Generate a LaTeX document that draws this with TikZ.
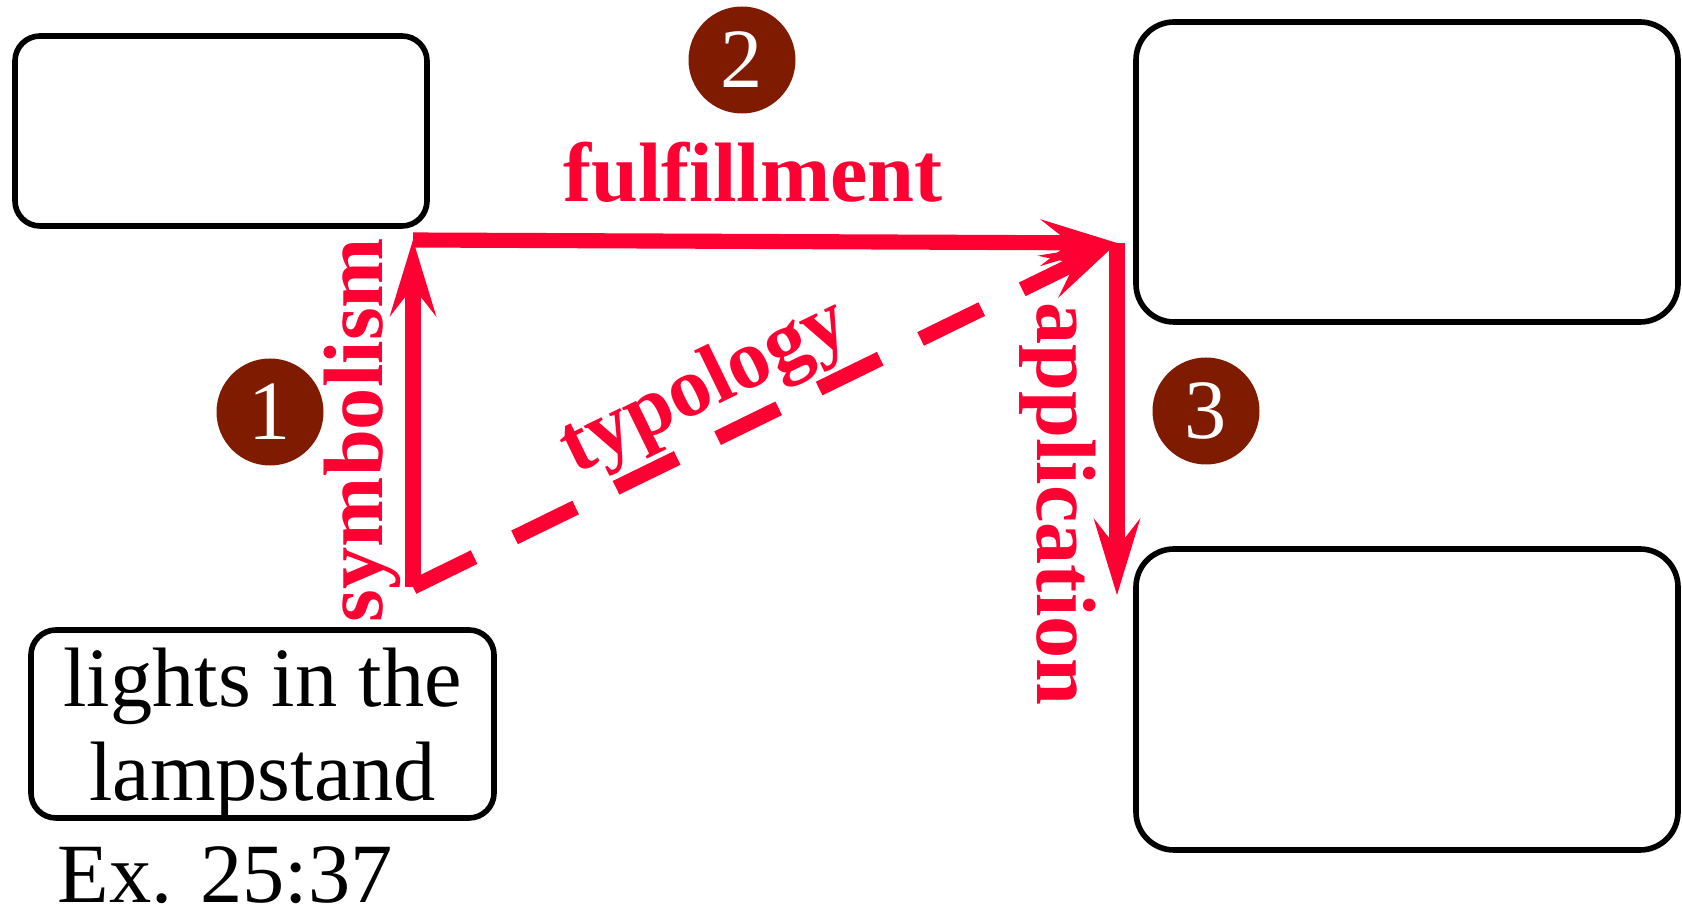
\documentclass[tikz,border=0pt]{standalone}
\usepackage{fontspec}
\setmainfont{Liberation Serif}
\usetikzlibrary{arrows.meta}
\definecolor{linkred}{RGB}{255,0,51}
\definecolor{ballbrown}{RGB}{127,27,0}
\begin{document}
\begin{tikzpicture}[%
% common options for the boxes:
box/.style = {draw, line width=1.6pt, rounded corners=0.25cm, align=center, inner sep=0},
% common options for the numbered circles:
ball/.style = {circle, fill=ballbrown, text=white, minimum size=1.07cm, inner sep=0,
            font=\fontsize{24}{28}\selectfont},
% common options for the red labels:
lbl/.style = {text=linkred, font=\fontsize{24}{28}\selectfont\bfseries, inner sep=0, anchor=base},
% common options for the red connectors:
link/.style = {draw=linkred, line width=4.3pt,
            -{Stealth[length=0.77cm, width=0.47cm, inset=0.3cm, line width=0pt, fill=linkred]}}]
\useasboundingbox (0,0) rectangle (16.82,-9.10);
\node[box, minimum width=4.12cm, minimum height=1.90cm] (type) at (2.21,-1.31) {};
\node[box, rounded corners=0.38cm, minimum width=5.42cm, minimum height=3.00cm] (fulf) at (14.07,-1.72) {};
\node[box, rounded corners=0.38cm, minimum width=5.42cm, minimum height=3.01cm] (appl) at (14.07,-6.995) {};
\node[box, minimum width=4.63cm, minimum height=1.88cm, text depth=0pt,
      font=\fontsize{24}{26.7}\selectfont] (lamp) at (2.625,-7.24) {lights in the\\lampstand};
\node[anchor=base west, inner sep=0, font=\fontsize{24}{28}\selectfont] (ref) at (0.57,-9.03) {Ex. 25:37};
\node[ball] (one) at (2.70,-4.12) {1};
\node[ball] (two) at (7.42,-0.60) {2};
\node[ball] (three) at (12.06,-4.11) {3};
\coordinate (symlow) at (4.13,-5.87);
\coordinate (symtop) at (4.13,-2.40);
\coordinate (fulend) at (11.17,-2.43);
\coordinate (applow) at (11.17,-5.95);
\draw[link] (symlow) -- (symtop);
\draw[link] (symtop) -- (fulend);
\draw[link] (fulend) -- (applow);
\draw[link, dash pattern=on 0.68cm off 0.45cm] (symlow) -- (fulend);
\node[lbl] (fulfl) at (7.53,-2.02) {fulfillment};
\node[lbl, rotate=90] (symbl) at (3.82,-4.30) {symbolism};
\node[lbl, rotate=-90] (appbl) at (10.37,-5.04) {application};
\node[lbl, rotate=26] (typbl) at (7.14,-4.065) {typology};
\end{tikzpicture}
\end{document}
